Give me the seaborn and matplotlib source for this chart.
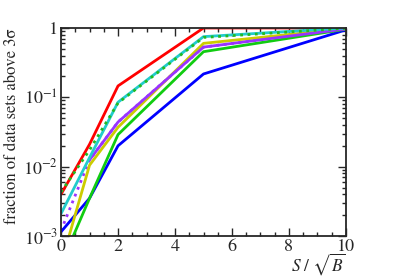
import numpy as np
import pandas as pd
import seaborn as sns
import matplotlib.pyplot as plt
from matplotlib.ticker import MultipleLocator, LogLocator, FixedLocator, NullFormatter

# S/sqrt(B) values
s_over_sqrtb = [0, 1, 2, 5, 10]

# fraction of data sets above 3 sigma
red = [0.0040, 0.021, 0.146, 1.0, 1.0]
blue = [0.00115, 0.0035, 0.020, 0.217, 0.94]
green = [0.00039, 0.0035, 0.029, 0.455, 0.96]
yellow = [0.0004, 0.0105, 0.037, 0.60, 0.98]
purple_dotted = [0.0012, 0.0125, 0.044, 0.53, 0.97]
purple = [np.nan, 0.0125, 0.044, 0.53, 0.97]
cyan = [0.0021, 0.0135, 0.085, 0.75, 1.0]
green_dotted = [0.0043, 0.0174, 0.083, 0.73, 0.99]

sns.set_style("ticks")
plt.rcParams['font.family'] = ['STIXGeneral', 'DejaVu Serif']
plt.rcParams['mathtext.fontset'] = 'stix'

fig = plt.figure(figsize=(4.07, 2.77), dpi=100)
ax = fig.add_axes([0.150, 0.148, 0.700, 0.751])

series = [
    (red, '#ff0000', '-'),
    (purple_dotted, '#9933ff', ':'),
    (blue, '#0000ff', '-'),
    (green, '#11cc11', '-'),
    (yellow, '#cccc00', '-'),
    (purple, '#9933ff', '-'),
    (cyan, '#22cccc', '-'),
    (green_dotted, '#22bb22', ':'),
]
for vals, col, ls in series:
    df = pd.DataFrame({'x': s_over_sqrtb, 'y': vals})
    sns.lineplot(data=df, x='x', y='y', color=col, linestyle=ls, lw=2, ax=ax)

ax.set_yscale('log')
ax.set_xlim(0, 10)
ax.set_ylim(1e-3, 1)

ax.xaxis.set_major_locator(MultipleLocator(2))
ax.xaxis.set_minor_locator(MultipleLocator(0.5))
ax.yaxis.set_major_locator(FixedLocator([1e-3, 1e-2, 1e-1, 1]))
ax.set_yticklabels(['$10^{-3}$', '$10^{-2}$', '$10^{-1}$', '1'])
ax.yaxis.set_minor_locator(LogLocator(base=10, subs=np.arange(2, 10)))
ax.yaxis.set_minor_formatter(NullFormatter())

ax.tick_params(which='both', direction='in', top=True, right=True, labelsize=13, width=1, pad=2)
ax.tick_params(which='major', length=6)
ax.tick_params(which='minor', length=3)
for sp in ax.spines.values():
    sp.set_linewidth(1.3)

ax.set_xlabel(r'$S\ /\ \sqrt{B}$', fontsize=12.5, loc='right')
ax.xaxis.set_label_coords(1.0, -0.075)
ax.set_ylabel('fraction of data sets above 3σ', fontsize=12, loc='top')
ax.yaxis.set_label_coords(-0.145, 1.0)

plt.savefig('out.png', dpi=100)
